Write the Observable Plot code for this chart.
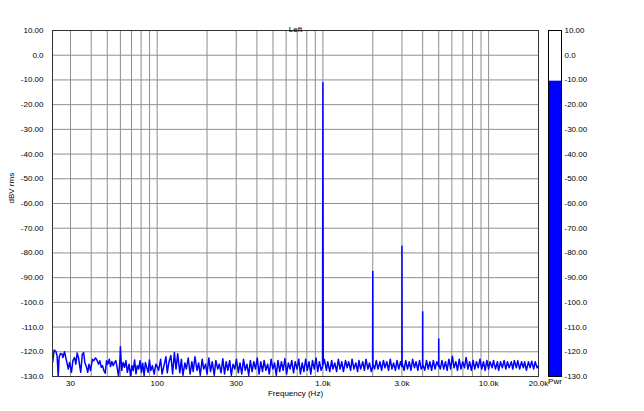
<!DOCTYPE html>
<html><head><meta charset="utf-8">
<script src="https://cdn.jsdelivr.net/npm/d3@7"></script>
<script src="https://cdn.jsdelivr.net/npm/@observablehq/plot@0.6"></script>
<style>
html,body{margin:0;padding:0;background:#fff;}
#wrap{position:relative;width:644px;height:411px;overflow:hidden;}
#wrap svg{position:absolute;top:0;}
</style></head><body><div id="wrap"></div>
<script>
// Spectrum, 23–100 Hz (Hz / dBV rms)
const freqLow = [
  23.4,23.9,24.5,24.9,25.3,25.6,26.1,26.7,27.0,27.6,
  28.3,29.1,29.6,30.0,30.4,31.0,31.7,32.3,32.9,33.5,
  34.2,34.6,35.3,36.0,36.6,37.5,38.1,38.8,39.6,40.7,
  41.5,42.5,43.5,44.3,45.1,46.0,46.8,47.7,48.6,49.5,
  50.4,51.4,52.3,53.3,54.3,55.3,56.3,57.3,58.5,59.6,
  60.0,61.1,62.3,63.6,64.8,66.1,67.7,69.1,70.5,71.7,
  73.1,74.5,75.9,77.4,78.8,80.4,81.8,83.4,84.9,86.5,
  88.2,89.8,91.5,93.6,95.9,98.2,100.5
];
const dbLow = [
  -124.3,-119.3,-119.9,-121.6,-130,-122.3,-120.7,-121,-122.3,-120,
  -123.3,-127,-124.3,-126.3,-128.3,-123.6,-122.3,-125,-120.5,-122.3,
  -126.3,-128.3,-121.2,-120.3,-124.3,-126.3,-128.3,-125,-127.6,-123,
  -123.6,-122.5,-123.6,-125,-123.6,-126.3,-125.6,-127.6,-128.7,-123.6,
  -125,-123,-126,-123.9,-125.6,-124.3,-123.6,-126.3,-130,-123.6,
  -118,-127.6,-124.3,-126.3,-123.6,-128.3,-125,-130,-125.6,-127.6,
  -123.3,-128.9,-125.6,-127,-123.6,-128.3,-124.6,-129.6,-124.3,-126.3,
  -128.3,-123.3,-127.6,-125.6,-129,-125,-126.3
];
// Spectrum, 100 Hz – 1 kHz
const freqMid = [
  102,105,107,110,113,115,118,121,124,127,130,
  133,137,140,143,147,150,154,158,162,165,169,174,
  178,182,187,191,196,200,205,210,215,221,226,232,
  237,243,249,255,261,267,274,280,287,294,301,309,
  316,324,332,340,348,357,365,374,383,392,402,412,
  422,432,442,453,464,475,487,499,511,523,536,549,
  562,576,590,604,619,634,649,665,681,698,715,732,
  750,768,787,806,825,845,866,887,909,931,953,976
];
const dbMid = [
  -127.5,-123,-129,-125.5,-122,-128.5,-124,-121.5,-129,-120.3,-127,
  -120.8,-128.5,-123,-129.5,-124.5,-127,-122.5,-129,-124,-128,-122,-127.5,
  -124.5,-129.5,-123,-127,-125,-129,-122.5,-128,-124,-129.5,-123.5,-127,
  -125,-128.5,-122.8,-129,-124,-127.5,-123.5,-129.5,-125,-127,-123,-128.5,
  -124.5,-129,-123,-127.5,-125,-129.5,-123.5,-128,-124,-127,-122.5,-129,
  -124,-128,-123.5,-127.5,-125,-129,-123,-127,-124.5,-129.5,-123.5,-128,
  -124,-127.5,-122.8,-129,-124.5,-127,-123.5,-128.5,-124,-127,-123,-129,
  -124.5,-128,-123,-127.5,-124,-129,-123.5,-127,-122.5,-128,-124,-127.5
];
// Spectrum, 1 kHz – 10 kHz (1 kHz tone and its harmonics)
const freqKHz = [
  995,1000,1005,1020,1050,1070,1100,1130,1150,1180,1210,1240,
  1270,1300,1330,1370,1400,1430,1470,1500,1540,1580,1620,1650,
  1690,1740,1780,1820,1870,1910,1960,1995,2000,2005,2050,2100,
  2150,2210,2260,2320,2370,2430,2490,2550,2610,2670,2740,2800,
  2870,2940,2995,3000,3005,3090,3160,3240,3320,3400,3480,3570,
  3650,3740,3830,3920,3995,4000,4005,4120,4220,4320,4420,4530,
  4640,4750,4870,4995,5000,5005,5110,5230,5360,5490,5620,5760,
  5900,6040,6190,6340,6490,6650,6810,6980,7150,7320,7500,7680,
  7870,8060,8250,8450,8660,8870,9090,9310,9530,9760
];
const dbKHz = [
  -126,-11,-125,-123,-127.5,-124,-128,-123.5,-127,-124.5,-128,-123,
  -127,-124,-128,-123.5,-126.5,-124,-127.5,-123,-127,-124.5,-128,-123.5,
  -127,-124,-127.5,-123,-127,-124.5,-128,-126,-87.5,-125,-127,-123.5,
  -127,-124,-127.5,-123.5,-126.5,-124,-127.5,-123,-127,-124.5,-127.5,-123.5,
  -127,-124,-126,-77.3,-124.5,-127.5,-123.5,-127,-124,-127.5,-123,-126.5,
  -124,-127.5,-123.5,-127,-126,-103.8,-125,-127.5,-123.5,-127,-124,-127.5,
  -123.5,-127,-124,-126,-114.8,-125,-127,-123.5,-127,-124,-127.5,-123,
  -127,-121.8,-126.5,-124,-127.5,-123,-127,-124,-126.5,-122.3,-127,-124,
  -127.5,-123.5,-127,-124,-126.5,-123,-127,-124,-127.5,-123.5
];
// Spectrum, 10 kHz – 20 kHz
const freqTop = [
  10000,10200,10500,10700,11000,11300,11500,11800,12100,12400,
  12700,13000,13300,13700,14000,14300,14700,15000,15400,15800,
  16200,16500,16900,17400,17800,18200,18700,19100,19600,20000
];
const dbTop = [
  -127,-124,-126.5,-123.5,-127,-124,-127.5,-124,-126.5,-123.5,
  -127,-124,-126.5,-124,-127,-123.5,-126.5,-123.6,-127,-124,
  -126.5,-124,-127.5,-124,-126.5,-123.8,-127,-124,-126.5,-125.5
];
const gridFreqs = [30,40,50,60,70,80,90,100,200,300,400,500,600,700,800,900,
  1000,2000,3000,4000,5000,6000,7000,8000,9000,10000];
const xTickValues = [30,60,100,300,600,1000,3000,6000,10000,20000];
const xTickLabels = ["30","60","100","300","600","1.0k","3.0k","6.0k","10.0k","20.0k"];
const yTickValues = [10,0,-10,-20,-30,-40,-50,-60,-70,-80,-90,-100,-110,-120,-130];
const yTickLabels = ["10.00","0.0","-10.00","-20.00","-30.00","-40.00","-50.00","-60.00",
  "-70.00","-80.00","-90.00","-100.0","-110.0","-120.0","-130.0"];
const xDomain = [23.36, 20000];
const pwrLevel = -10.5;
const titleText = "Left", xLabel = "Frequency (Hz)", yLabel = "dBV rms", pwrLabel = "Pwr";

const pairs = (fs, ds) => fs.map((f, i) => ({f, db: ds[i]}));
const spectrum = [
  ...pairs(freqLow, dbLow), ...pairs(freqMid, dbMid),
  ...pairs(freqKHz, dbKHz), ...pairs(freqTop, dbTop)
];
const xFmt = new Map(xTickValues.map((v, i) => [v, xTickLabels[i]]));
const yFmt = new Map(yTickValues.map((v, i) => [v, yTickLabels[i]]));
const yDomain = [d3.min(yTickValues), d3.max(yTickValues)];
const font = {fontFamily: "'Liberation Sans', Arial, Helvetica, sans-serif", fontSize: "8px",
  background: "transparent", color: "#000", overflow: "visible"};
const gridColor = "#8e8e8e";
const blue = "#0000ff";

const main = Plot.plot({
  width: 644, height: 411,
  marginLeft: 52, marginRight: 106, marginTop: 30, marginBottom: 35,
  style: font,
  x: {type: "log", domain: xDomain, ticks: xTickValues, tickFormat: d => xFmt.get(d),
      tickSize: 0, tickPadding: 4, label: null},
  y: {domain: yDomain, ticks: yTickValues, tickFormat: d => yFmt.get(d),
      tickSize: 0, tickPadding: 9, label: null},
  marks: [
    Plot.ruleX(gridFreqs, {x: d => d, stroke: gridColor, strokeWidth: 1}),
    Plot.ruleY(yTickValues, {y: d => d, stroke: gridColor, strokeWidth: 1}),
    Plot.line(spectrum, {x: "f", y: "db", stroke: blue, strokeWidth: 1.5}),
    Plot.frame({stroke: "#333"}),
    Plot.text([titleText], {text: d => d, frameAnchor: "top", dy: -4, fill: "#000"}),
    Plot.text([xLabel], {text: d => d, frameAnchor: "bottom", dy: 19, fill: "#000"}),
    Plot.text([yLabel], {text: d => d, frameAnchor: "left", dx: -41, rotate: -90, fill: "#000"})
  ]
});

const pwr = Plot.plot({
  width: 106, height: 411,
  marginLeft: 10, marginRight: 83, marginTop: 30, marginBottom: 35,
  style: font,
  y: {domain: yDomain, axis: "right", ticks: yTickValues, tickFormat: d => yFmt.get(d),
      tickSize: 0, tickPadding: 3, label: null},
  marks: [
    Plot.rectY([pwrLevel], {y1: () => yDomain[0], y2: d => d, fill: blue}),
    Plot.frame({stroke: "#000"}),
    Plot.text([pwrLabel], {text: d => d, frameAnchor: "bottom", dy: 7, fill: "#000"})
  ]
});

const wrap = document.getElementById("wrap");
main.style.left = "0px";
pwr.style.left = "538px";
wrap.appendChild(main);
wrap.appendChild(pwr);
</script>
</body></html>
